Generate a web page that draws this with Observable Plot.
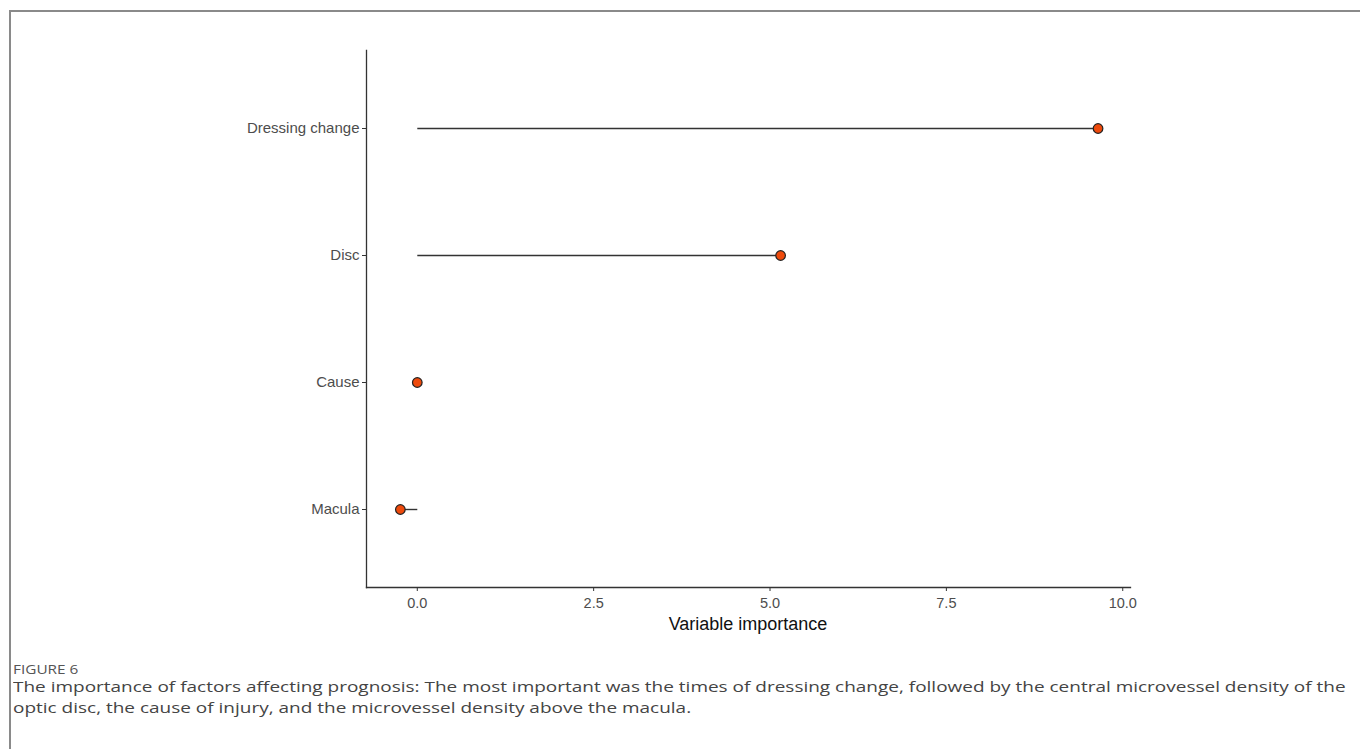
<!DOCTYPE html>
<html>
<head>
<meta charset="utf-8">
<script src="https://cdn.jsdelivr.net/npm/d3@7"></script>
<script src="https://cdn.jsdelivr.net/npm/@observablehq/plot@0.6"></script>
<style>
  html, body { margin: 0; padding: 0; background: #fff; }
  body { width: 1360px; height: 749px; position: relative; overflow: hidden; }
  #frame { position: absolute; left: 9px; top: 10px; right: -10px; bottom: -10px;
           border-top: 2px solid #8a8a8a; border-left: 2px solid #8a8a8a; }
  #chart { position: absolute; left: 0; top: 0; }
  #figlabel { position: absolute; left: 13px; top: 662px; font-family: "Open Sans", sans-serif;
              font-size: 12px; line-height: 16px; color: #555; transform: scaleX(1.28); transform-origin: left center; }
  #caption { position: absolute; left: 13px; top: 676px; font-family: "Open Sans", sans-serif;
             font-size: 15px; line-height: 21px; color: #444; white-space: nowrap;
             transform: scaleX(1.265); transform-origin: left top; }
</style>
</head>
<body>
<div id="frame"></div>
<div id="chart"></div>
<div id="figlabel">FIGURE 6</div>
<div id="caption">The importance of factors affecting prognosis: The most important was the times of dressing change, followed by the central microvessel density of the<br>optic disc, the cause of injury, and the microvessel density above the macula.</div>
<script>
const variables = ["Dressing change", "Disc", "Cause", "Macula"];
const importance = [9.65, 5.15, 0.0, -0.24];
const xTicks = [0, 2.5, 5, 7.5, 10];

const data = variables.map((v, i) => ({variable: v, value: importance[i]}));

const chart = Plot.plot({
  width: 1360,
  height: 650,
  marginLeft: 366,
  marginRight: 230,
  marginTop: 50,
  marginBottom: 63,
  style: {fontFamily: "Liberation Sans, Arial, sans-serif", fontSize: "14px", background: "transparent"},
  x: {domain: [-0.72, 10.11], ticks: xTicks, tickFormat: d3.format(".1f"), label: null},
  y: {type: "point", domain: variables, padding: 0.6, label: null},
  marks: [
    Plot.frame({anchor: "left", stroke: "#333", strokeWidth: 1.3}),
    Plot.frame({anchor: "bottom", stroke: "#333", strokeWidth: 1.3}),
    Plot.axisX({ticks: xTicks, tickFormat: d3.format(".1f"), tickSize: 4, tickPadding: 6, stroke: "#333", color: "#4d4d4d", fontSize: 14.5, label: null}),
    Plot.axisY({tickSize: 4, tickPadding: 3, stroke: "#333", color: "#4d4d4d", fontSize: 15, label: null}),
    Plot.link(data, {x1: 0, x2: "value", y1: "variable", y2: "variable", stroke: "#333", strokeWidth: 1.4}),
    Plot.dot(data, {x: "value", y: "variable", r: 4.8, fill: "#ee4a0c", stroke: "#222", strokeWidth: 1.2})
  ]
});
document.getElementById("chart").appendChild(chart);

// x-axis title
const svg = d3.select(chart);
svg.append("text")
  .attr("x", (366 + 1130) / 2)
  .attr("y", 630)
  .attr("text-anchor", "middle")
  .attr("font-family", "Liberation Sans, Arial, sans-serif")
  .attr("font-size", 18)
  .attr("fill", "#111")
  .text("Variable importance");
</script>
</body>
</html>
